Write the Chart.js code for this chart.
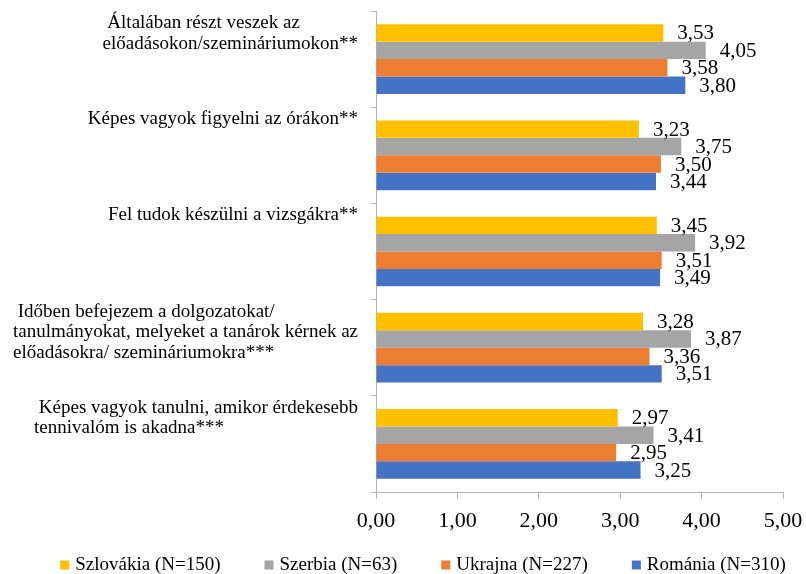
<!DOCTYPE html>
<html>
<head>
<meta charset="utf-8">
<script src="https://cdn.jsdelivr.net/npm/chart.js@4/dist/chart.umd.min.js"></script>
<style>
  html, body { margin: 0; padding: 0; background: #fff; }
</style>
</head>
<body>
<canvas id="chart" width="806" height="574"></canvas>
<script>
const FONT = "'Liberation Serif', 'Times New Roman', serif";
const AXIS = "#B4B4B4";

// category labels, one array of lines per category
const categories = [
  [" Általában részt veszek az", "előadásokon/szemináriumokon**"],
  ["Képes vagyok figyelni az órákon**"],
  ["Fel tudok készülni a vizsgákra**"],
  [" Időben befejezem a dolgozatokat/", "tanulmányokat, melyeket a tanárok kérnek az", "előadásokra/ szemináriumokra***"],
  [" Képes vagyok tanulni, amikor érdekesebb", "tennivalóm is akadna***"],
];
const seriesNames = ["Szlovákia (N=150)", "Szerbia (N=63)", "Ukrajna (N=227)", "Románia (N=310)"];
const seriesColors = ["#FFC000", "#A5A5A5", "#ED7D31", "#4472C4"];

const szlovakia = [3.53, 3.23, 3.45, 3.28, 2.97];
const szerbia = [4.05, 3.75, 3.92, 3.87, 3.41];
const ukrajna = [3.58, 3.50, 3.51, 3.36, 2.95];
const romania = [3.80, 3.44, 3.49, 3.51, 3.25];

const xTicks = [0, 1, 2, 3, 4, 5];

const fmt = (v) => Number(v).toFixed(2).replace(".", ",");

// multi-line labels: block right-aligned to the axis, lines left-aligned inside
const categoryLabels = {
  id: "categoryLabels",
  afterDraw(chart) {
    const { ctx } = chart;
    const y = chart.scales.y;
    const catH = (y.bottom - y.top) / categories.length;
    ctx.save();
    ctx.font = `19px ${FONT}`;
    ctx.fillStyle = "#000";
    ctx.textAlign = "left";
    ctx.textBaseline = "alphabetic";
    categories.forEach((lines, i) => {
      const w = Math.max(...lines.map((l) => ctx.measureText(l).width));
      const x0 = y.right - 18 - w;
      const top = y.getPixelForTick(i) - catH / 2;
      lines.forEach((l, j) => ctx.fillText(l, x0, top + 17 + j * 20.5));
    });
    ctx.restore();
  },
};

const valueLabels = {
  id: "valueLabels",
  afterDatasetsDraw(chart) {
    const { ctx } = chart;
    ctx.save();
    ctx.font = `21px ${FONT}`;
    ctx.fillStyle = "#000";
    ctx.textAlign = "left";
    ctx.textBaseline = "middle";
    chart.data.datasets.forEach((ds, i) => {
      chart.getDatasetMeta(i).data.forEach((bar, j) => {
        ctx.fillText(fmt(ds.data[j]), bar.x + 14, bar.y + 1);
      });
    });
    ctx.restore();
  },
};

const bottomLegend = {
  id: "bottomLegend",
  afterDraw(chart) {
    const { ctx } = chart;
    const box = 9, textGap = 15, gap = 44;
    ctx.save();
    ctx.font = `19px ${FONT}`;
    ctx.textAlign = "left";
    ctx.textBaseline = "middle";
    const widths = seriesNames.map((n) => ctx.measureText(n).width);
    const total = widths.reduce((s, w) => s + w + textGap, 0) + gap * (widths.length - 1);
    let x = 423 - total / 2;
    const yMid = chart.height - 9;
    seriesNames.forEach((name, i) => {
      ctx.fillStyle = seriesColors[i];
      ctx.fillRect(x, yMid - 4.5, box, box);
      ctx.fillStyle = "#000";
      ctx.fillText(name, x + textGap, yMid);
      x += textGap + widths[i] + gap;
    });
    ctx.restore();
  },
};

new Chart(document.getElementById("chart"), {
  type: "bar",
  data: {
    labels: categories.map((c) => c.join(" ").trim()),
    datasets: [szlovakia, szerbia, ukrajna, romania].map((data, i) => ({
      label: seriesNames[i],
      data,
      backgroundColor: seriesColors[i],
      borderWidth: 0,
      categoryPercentage: 0.725,
      barPercentage: 1,
    })),
  },
  options: {
    indexAxis: "y",
    responsive: false,
    animation: false,
    layout: { padding: { top: 11, right: 23, bottom: 32, left: 0 } },
    plugins: {
      legend: { display: false },
      tooltip: { enabled: false },
    },
    scales: {
      x: {
        min: xTicks[0],
        max: xTicks[xTicks.length - 1],
        ticks: {
          stepSize: 1,
          callback: (v) => fmt(v),
          color: "#000",
          font: { family: FONT, size: 22 },
          padding: 9,
        },
        grid: { drawOnChartArea: false, color: AXIS, tickLength: 7 },
        border: { color: AXIS },
        afterFit: (s) => {
          s.height = 50;
          s.paddingLeft = 0;
          s.paddingRight = 0;
        },
      },
      y: {
        ticks: { display: false },
        grid: { drawOnChartArea: false, color: AXIS, tickLength: 5, offset: true },
        border: { color: AXIS },
        afterFit: (s) => { s.width = 376; },
      },
    },
  },
  plugins: [categoryLabels, valueLabels, bottomLegend],
});
</script>
</body>
</html>
